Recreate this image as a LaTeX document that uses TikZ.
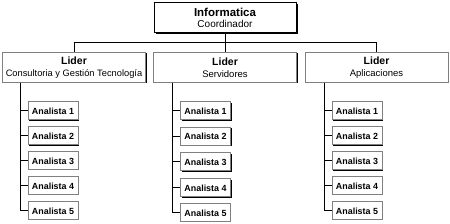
\documentclass[tikz,border=0pt]{standalone}
\usepackage{fontspec}
\setmainfont{Liberation Sans}
\usetikzlibrary{shadows}
\definecolor{boxgray}{HTML}{808080}
\tikzset{
  x=1pt, y=1pt,
  conn/.style={draw=black, line width=1pt},
  topbox/.style={draw=black, line width=1pt, fill=white, minimum width=142pt, minimum height=30pt, inner sep=0pt, align=center,
    general shadow={fill=black, shadow xshift=1.5pt, shadow yshift=-1.5pt}},
  leadbox/.style={draw=boxgray, line width=1pt, fill=white, minimum width=143pt, minimum height=30pt, inner sep=0pt, align=center,
    general shadow={fill=black, shadow xshift=1pt, shadow yshift=-1pt}},
  anbox/.style={draw=boxgray, line width=1pt, fill=white, minimum width=50pt, minimum height=18pt, inner sep=0pt,
    font=\bfseries\fontsize{8.9}{10}\selectfont},
  anshadow/.style={general shadow={fill=black, shadow xshift=1pt, shadow yshift=-1pt}},
}
\newcommand{\twolines}[4]{{\bfseries\fontsize{#1}{11}\selectfont #2}\\[-0.5pt]{\fontsize{#4}{11}\selectfont #3}}
\begin{document}
\begin{tikzpicture}
\useasboundingbox (0,0) rectangle (450,-224);
\node[topbox] (top) at (225,-18) {\twolines{11.5}{Informatica}{Coordinador}{10}};
\node[leadbox] (l1) at (74,-67.5) {\twolines{10.5}{Lider}{Consultoria y Gestión Tecnología}{9.3}};
\node[leadbox] (l2) at (225,-67.5) {\twolines{10.5}{Lider}{Servidores}{9.5}};
\node[leadbox] (l3) at (376.5,-67.5) {\twolines{10.5}{Lider}{Aplicaciones}{9.5}};
\coordinate (busL) at (74,-43);
\coordinate (busR) at (376.5,-43);
\coordinate (busM) at (225,-43);
\draw[conn] (top.south) -- (busM);
\draw[conn] (busL) -- (busR);
\draw[conn] (l1.north) -- (busL);
\draw[conn] (l2.north) -- (busM);
\draw[conn] (l3.north) -- (busR);
% column 1
\foreach \k/\y/\sh in {1/-111/anshadow,2/-136/anshadow,3/-161/{},4/-186/{},5/-211/{}}{
  \node[anbox,\sh] (a1\k) at (53,\y) {Analista \k};
}
% column 2
\foreach \k/\y/\sh in {1/-111/anshadow,2/-136.5/anshadow,3/-162/anshadow,4/-188/anshadow,5/-213/{}}{
  \node[anbox,\sh] (a2\k) at (205.5,\y) {Analista \k};
}
% column 3
\foreach \k/\y/\sh in {1/-111/anshadow,2/-136/anshadow,3/-161/anshadow,4/-186/{},5/-211/{}}{
  \node[anbox,\sh] (a3\k) at (357,\y) {Analista \k};
}
\coordinate (s1) at (20,-83);
\coordinate (s2) at (172.5,-83);
\coordinate (s3) at (324,-83);
\foreach \c in {1,2,3}{
  \foreach \k in {1,...,5}{
    \draw[conn] (s\c) |- (a\c\k.west);
  }
}
\end{tikzpicture}
\end{document}
